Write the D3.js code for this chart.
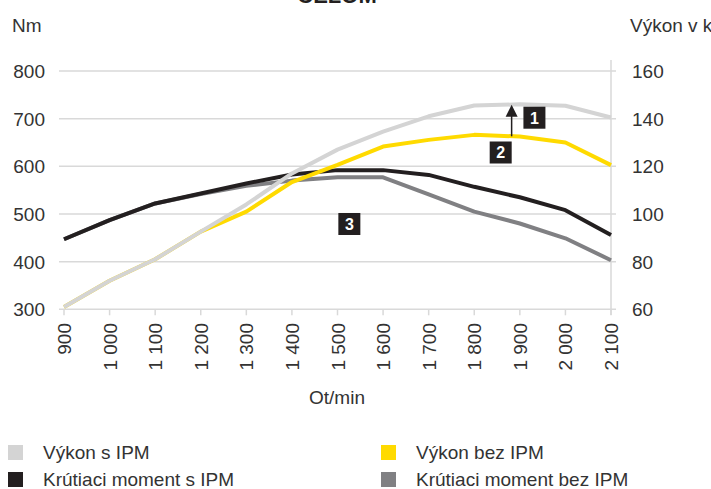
<!DOCTYPE html>
<html>
<head>
<meta charset="utf-8">
<script src="https://cdn.jsdelivr.net/npm/d3@7"></script>
<style>
  body { margin: 0; background: #fff; }
  svg { display: block; font-family: "Liberation Sans Narrow", "Liberation Sans", sans-serif; }
</style>
</head>
<body>
<div id="chart"></div>
<script>
// rpm categories
const rpm = [900, 1000, 1100, 1200, 1300, 1400, 1500, 1600, 1700, 1800, 1900, 2000, 2100];

// power (kW, right axis)
const powerIPM   = [61, 72, 81, 92.6, 104, 117, 127, 134.6, 141, 145.5, 146, 145.4, 140.5];
const powerNoIPM = [61, 72, 81, 92.6, 101, 113.4, 120.6, 128.3, 131.1, 133.2, 132.5, 130, 120.5];

// torque (Nm, left axis)
const torqueIPM   = [447, 487, 522, 543, 564, 583, 592, 592, 582, 557, 535, 508, 456];
const torqueNoIPM = [447, 487, 522, 542, 559, 570, 577, 577, 541, 505, 480, 449, 403];

const leftTicks = [300, 400, 500, 600, 700, 800];
const rightTicks = [60, 80, 100, 120, 140, 160];

const legendItems = [
    { name: "Výkon s IPM", color: "#d4d4d4" },
    { name: "Výkon bez IPM", color: "#ffda00" },
    { name: "Krútiaci moment s IPM", color: "#231f20" },
    { name: "Krútiaci moment bez IPM", color: "#808083" }
];

// numbered markers: rpm + value on the power axis
const markers = [
    { label: "1", rpm: 1932, kw: 140.4 },
    { label: "2", rpm: 1858, kw: 125.8 },
    { label: "3", rpm: 1526, kw: 95.8 }
];

const width = 711, height = 489;
const x = d3.scaleLinear().domain([900, 2100]).range([64, 611]);
const yL = d3.scaleLinear().domain([300, 800]).range([309.3, 71]);
const yR = d3.scaleLinear().domain([60, 160]).range([309.3, 71]);

const svg = d3.select("#chart").append("svg")
    .attr("width", width)
    .attr("height", height);

// title (cut off at the top)
svg.append("text")
    .attr("x", 337)
    .attr("y", 3)
    .attr("text-anchor", "middle")
    .attr("font-family", "Liberation Sans")
    .attr("font-weight", "bold")
    .attr("font-size", 22)
    .attr("fill", "#231f20")
    .text("CELOM");

// gridlines
svg.append("g")
    .selectAll("line")
    .data(leftTicks)
    .join("line")
    .attr("x1", 59)
    .attr("x2", 616)
    .attr("y1", d => yL(d))
    .attr("y2", d => yL(d))
    .attr("stroke", "#d9d9d9")
    .attr("stroke-width", 1.5);

// right vertical axis line
svg.append("line")
    .attr("x1", x(2100)).attr("x2", x(2100))
    .attr("y1", 60).attr("y2", 315)
    .attr("stroke", "#d9d9d9")
    .attr("stroke-width", 1.5);

// x ticks
svg.append("g")
    .selectAll("line")
    .data(rpm)
    .join("line")
    .attr("x1", d => x(d)).attr("x2", d => x(d))
    .attr("y1", yL(300)).attr("y2", yL(300) + 6)
    .attr("stroke", "#d9d9d9")
    .attr("stroke-width", 1.5);

const fmt = d => d3.format(",")(d).replace(",", " ");

svg.append("g")
    .selectAll("text")
    .data(rpm)
    .join("text")
    .attr("transform", d => `translate(${x(d) + 7},323) rotate(-90)`)
    .attr("text-anchor", "end")
    .attr("font-size", 19)
    .attr("fill", "#333")
    .text(d => fmt(d));

// y tick labels
svg.append("g")
    .selectAll("text")
    .data(leftTicks)
    .join("text")
    .attr("x", 45)
    .attr("y", d => yL(d) + 7)
    .attr("text-anchor", "end")
    .attr("font-size", 19)
    .attr("fill", "#333")
    .text(d => d);

svg.append("g")
    .selectAll("text")
    .data(rightTicks)
    .join("text")
    .attr("x", 632)
    .attr("y", d => yR(d) + 7)
    .attr("font-size", 19)
    .attr("fill", "#333")
    .text(d => d);

// axis titles
svg.append("text").attr("x", 12).attr("y", 32).attr("font-size", 19).attr("fill", "#333").text("Nm");
svg.append("text").attr("x", 630).attr("y", 32).attr("font-size", 19).attr("fill", "#333").text("Výkon v kW");
svg.append("text").attr("x", 337).attr("y", 404).attr("text-anchor", "middle")
    .attr("font-size", 19).attr("fill", "#333").text("Ot/min");

// lines
const lineL = d3.line().x((d, i) => x(rpm[i])).y(d => yL(d));
const lineR = d3.line().x((d, i) => x(rpm[i])).y(d => yR(d));

const series = [
    { values: torqueNoIPM, gen: lineL, color: "#808083" },
    { values: torqueIPM, gen: lineL, color: "#231f20" },
    { values: powerNoIPM, gen: lineR, color: "#ffda00" },
    { values: powerIPM, gen: lineR, color: "#d4d4d4" }
];

svg.append("g")
    .selectAll("path")
    .data(series)
    .join("path")
    .attr("d", d => d.gen(d.values))
    .attr("fill", "none")
    .attr("stroke", d => d.color)
    .attr("stroke-width", 4)
    .attr("stroke-linejoin", "round");

// arrow from "bez IPM" to "s IPM" power at 1 880 rpm
const arrowX = x(1882);
const arrowY0 = yR(132.6), arrowY1 = yR(145.8);
svg.append("line")
    .attr("x1", arrowX).attr("x2", arrowX)
    .attr("y1", arrowY0).attr("y2", arrowY1 + 10)
    .attr("stroke", "#231f20")
    .attr("stroke-width", 1.5);
svg.append("path")
    .attr("d", `M${arrowX},${arrowY1} L${arrowX - 6},${arrowY1 + 12} L${arrowX + 6},${arrowY1 + 12} Z`)
    .attr("fill", "#231f20");

// numbered markers
const mk = svg.append("g")
    .selectAll("g")
    .data(markers)
    .join("g")
    .attr("transform", d => `translate(${x(d.rpm)},${yR(d.kw)})`);
mk.append("rect")
    .attr("x", -11).attr("y", -11)
    .attr("width", 22).attr("height", 22)
    .attr("fill", "#231f20");
mk.append("text")
    .attr("y", 6)
    .attr("text-anchor", "middle")
    .attr("font-family", "Liberation Sans")
    .attr("font-weight", "bold")
    .attr("font-size", 16)
    .attr("fill", "#fff")
    .text(d => d.label);

// legend
const lg = svg.append("g")
    .selectAll("g")
    .data(legendItems)
    .join("g")
    .attr("transform", (d, i) => `translate(${i % 2 ? 381 : 8},${i < 2 ? 445 : 472})`);
lg.append("rect")
    .attr("width", 15).attr("height", 15)
    .attr("fill", d => d.color);
lg.append("text")
    .attr("x", 35)
    .attr("y", 14)
    .attr("font-size", 19)
    .attr("fill", "#333")
    .text(d => d.name);
</script>
</body>
</html>
